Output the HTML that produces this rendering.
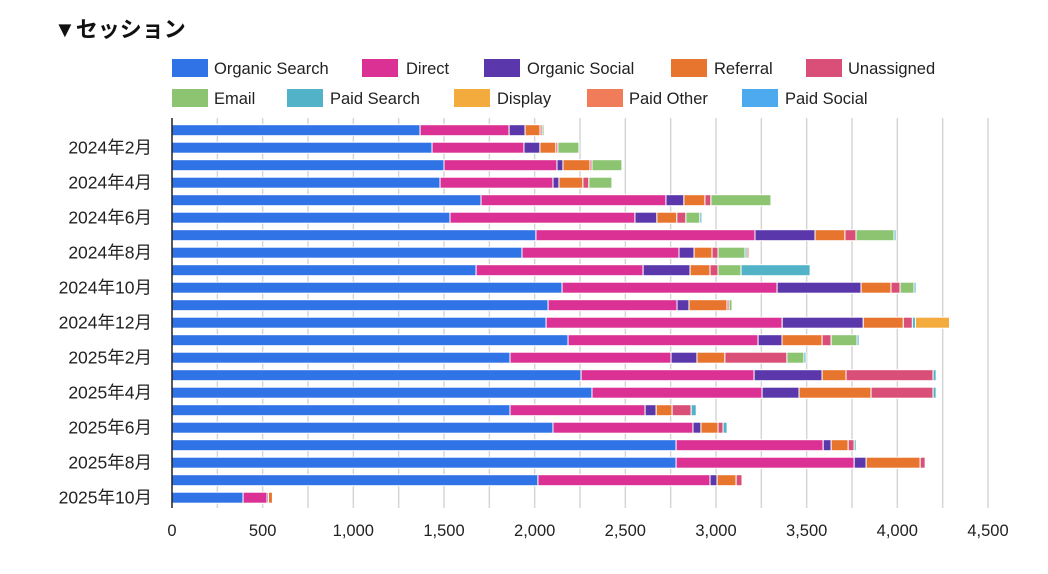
<!DOCTYPE html>
<html><head><meta charset="utf-8">
<style>
body{margin:0;background:#fff;width:1048px;height:574px;overflow:hidden;font-family:"Liberation Sans","Noto Sans CJK JP",sans-serif;}
svg{position:absolute;left:0;top:0}
</style></head>
<body>
<svg id="c" width="1048" height="574"></svg>
<script>
const categories=["2024年1月","2024年2月","2024年3月","2024年4月","2024年5月","2024年6月","2024年7月","2024年8月","2024年9月","2024年10月","2024年11月","2024年12月","2025年1月","2025年2月","2025年3月","2025年4月","2025年5月","2025年6月","2025年7月","2025年8月","2025年9月","2025年10月"];
const seriesNames=["Organic Search","Direct","Organic Social","Referral","Unassigned","Email","Paid Search","Display","Paid Other","Paid Social"];
const seriesColors=["#3073e6","#dc3194","#5a37ab","#e8752e","#da4f78","#8cc472","#52b3c8","#f4ab3e","#f07c59","#4eaaee"];
const organicSearch=[1368,1434,1500,1478,1704,1533,2007,1930,1677,2151,2074,2063,2184,1864,2256,2316,1864,2101,2780,2780,2018,392];
const direct=[491,507,623,623,1020,1020,1208,866,921,1186,711,1302,1048,888,954,938,745,772,811,982,949,132];
const organicSocial=[88,88,33,33,99,121,331,83,259,463,66,447,132,143,375,204,61,44,44,66,39,8];
const referral=[83,88,149,132,116,110,165,99,110,165,210,221,221,154,132,397,88,94,94,298,105,22];
const unassigned=[11,11,11,33,33,50,61,33,44,50,11,50,50,342,480,342,105,28,33,28,33,4];
const email=[11,116,165,127,331,77,210,149,127,77,17,0,143,94,0,0,0,0,0,0,0,0];
const paidSearch=[5,0,0,0,0,11,11,11,381,11,5,17,0,11,17,17,28,22,11,5,0,5];
const display=[0,0,0,0,0,0,0,0,0,0,0,188,0,0,0,0,0,0,0,0,5,0];
const paidOther=[0,0,0,0,0,0,0,11,0,0,0,0,0,0,0,0,0,0,0,0,0,0];
const paidSocial=[0,0,0,0,0,0,0,0,0,0,0,5,11,0,0,0,0,0,0,0,0,0];
const series=[organicSearch,direct,organicSocial,referral,unassigned,email,paidSearch,display,paidOther,paidSocial];
const xTicks=[0,500,1000,1500,2000,2500,3000,3500,4000,4500];
const xTickLabels=["0","500","1,000","1,500","2,000","2,500","3,000","3,500","4,000","4,500"];

const svg=document.getElementById('c');
const NS="http://www.w3.org/2000/svg";
const x0=172,x1=988,xMax=4500;
const xScale=v=>x0+v/xMax*(x1-x0);
const rowY=i=>130.2+i*17.5;
function mk(tag,attrs,parent){const e=document.createElementNS(NS,tag);for(const k in attrs)e.setAttribute(k,attrs[k]);(parent||svg).appendChild(e);return e;}

let t=mk('text',{x:54,y:37,'font-size':22,'font-weight':'bold',fill:'#111'});
t.textContent="▼セッション";



const legendPos=[[172,214,68],[362,406,68],[484,527,68],[671,714,68],[806,848,68],[172,214,98],[287,330,98],[454,497,98],[587,629,98],[742,785,98]];
seriesNames.forEach((n,i)=>{
  const g=mk('g',{});
  
  
  const p=legendPos[i];
  mk('rect',{x:p[0],y:p[2]-9,width:36,height:18,fill:seriesColors[i]},g);
  const tx=mk('text',{x:p[1],y:p[2]+6,'font-size':16.5,fill:'#222'},g);
  tx.textContent=n;
});

for(let v=250;v<=4500;v+=250){
  const l=mk('line',{x1:xScale(v),x2:xScale(v),y1:118,y2:508,stroke:'#d6d6d6','stroke-width':1.5});
  
  
}
xTicks.forEach((v,i)=>{
  const tx=mk('text',{x:xScale(v),y:536,'font-size':16.5,'text-anchor':'middle',fill:'#222'});
  tx.textContent=xTickLabels[i];
  
  
});
categories.forEach((c,i)=>{
  if(i%2===1){
    const tx=mk('text',{x:152,y:rowY(i)+6,'font-size':17.5,'text-anchor':'end',fill:'#222'});
    tx.textContent=c;
    
    
  }
});
categories.forEach((c,i)=>{
  let acc=0;
  series.forEach((s,k)=>{
    const v=s[i];
    if(v<=0)return;
    const r=mk('rect',{x:xScale(acc),y:rowY(i)-5.5,width:Math.max(xScale(acc+v)-xScale(acc),0.5),height:11,fill:seriesColors[k],stroke:'#fff','stroke-width':1});
    
    
    acc+=v;
  });
});
const ax=mk('line',{x1:x0,x2:x0,y1:118,y2:508,stroke:'#222','stroke-width':1.5});


</script>
</body></html>
